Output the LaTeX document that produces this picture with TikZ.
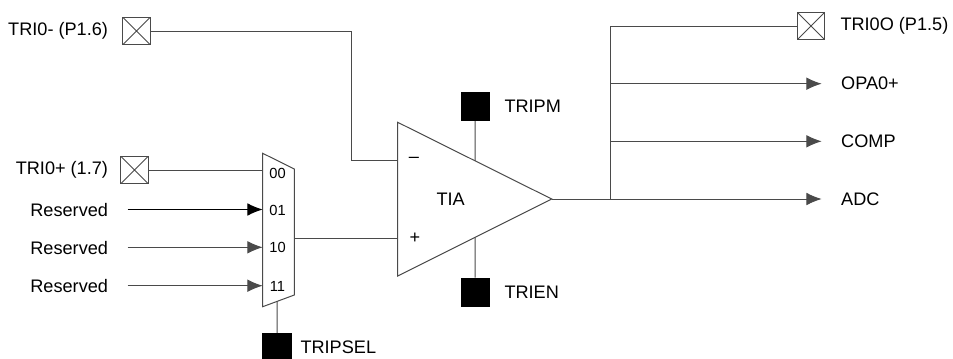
\documentclass[tikz,border=0pt]{standalone}
\usepackage{fontspec}
\setmainfont{Liberation Sans}
\usetikzlibrary{arrows.meta,calc}
\definecolor{wire}{HTML}{4A4A4A}
\tikzset{
  pinbox/.style={draw=wire,fill=white,inner sep=0pt,minimum size=20.5pt,
    path picture={\draw[wire,line width=0.6pt]
      (path picture bounding box.south west) -- (path picture bounding box.north east)
      (path picture bounding box.north west) -- (path picture bounding box.south east);}},
  ctrlbox/.style={draw=black,fill=black,inner sep=0pt,minimum size=21pt},
  sig/.style={inner sep=0pt,font=\fontsize{13.6}{16}\selectfont},
  sel/.style={inner sep=0pt,font=\fontsize{11}{13}\selectfont},
  arr/.style={-{Latex[length=11.5pt,width=9.5pt]}},
}
\begin{document}
\begin{tikzpicture}[x=0.75pt,y=-0.75pt,line width=0.75pt,draw=wire]
\useasboundingbox (0,0) rectangle (953,358);

% pins on the left
\node[pinbox] (pinm) at (136.5,31) {};
\node[sig,anchor=east] (lblm) at (108.5,31) {TRI0- (P1.6)};
\node[pinbox] (pinp) at (134.5,170) {};
\node[sig,anchor=east] (lblp) at (108.5,170) {TRI0+ (1.7)};
\node[sig,anchor=east] (res1) at (108.5,210) {Reserved};
\node[sig,anchor=east] (res2) at (108.5,248) {Reserved};
\node[sig,anchor=east] (res3) at (108.5,286) {Reserved};

% input mux
\coordinate (muxTL) at (262.7,153.3);
\coordinate (muxTR) at (294.3,169);
\coordinate (muxBR) at (294.3,295);
\coordinate (muxBL) at (262.7,306.7);
\draw[fill=white] (muxTL) -- (muxTR) -- (muxBR) -- (muxBL) -- cycle;
\node[sel] (m00) at (277.5,173.3) {00};
\node[sel] (m01) at (277.5,210) {01};
\node[sel] (m10) at (277.5,247) {10};
\node[sel] (m11) at (277.5,286) {11};

\coordinate (r1) at (127.7,209.5);
\coordinate (r2) at (127.7,247.3);
\coordinate (r3) at (127.7,285.7);
\draw (pinp.east) -- (pinp.east -| muxTL);
\draw[arr,draw=black] (r1) -- (r1 -| muxTL);
\draw[arr] (r2) -- (r2 -| muxTL);
\draw[arr] (r3) -- (r3 -| muxTL);

% mux select
\coordinate (selT) at ($(muxBL)!0.46!(muxBR)$);
\node[ctrlbox,minimum width=21.5pt,minimum height=22pt] (psel) at (277.2,348) {};
\node[sig,anchor=west] (lblsel) at (300,347) {TRIPSEL};
\draw (selT) -- (psel);

% amplifier
\coordinate (tiaT) at (397.7,122.3);
\coordinate (tiaB) at (397.7,276);
\coordinate (tiaO) at (551.7,199);
\draw (tiaT) -- (tiaO) -- (tiaB) -- cycle;
\coordinate (tiaM) at (397.7,160);
\coordinate (tiaP) at (397.7,238.3);
\node[sig] (tia) at (450.7,199) {TIA};
\node[sig] (minus) at (414,160) {–};
\node[sig] (plus) at (415,238.5) {+};

\coordinate (bendm) at (351.7,160);
\draw (pinm.east) -| (bendm) -- (tiaM);
\draw (tiaP -| muxTR) -- (tiaP);

\node[ctrlbox] (pm) at (475,106.7) {};
\node[sig,anchor=west] (lblpm) at (504,106.7) {TRIPM};
\coordinate (pmT) at ($(tiaT)!0.502!(tiaO)$);
\draw (pm) -- (pmT);
\node[ctrlbox] (en) at (475,292.2) {};
\node[sig,anchor=west] (lblen) at (504,292.2) {TRIEN};
\coordinate (enB) at ($(tiaB)!0.502!(tiaO)$);
\draw (en) -- (enB);

% outputs
\coordinate (br) at (610,199);
\node[pinbox] (pino) at (811,26) {};
\node[sig,anchor=west] (lblo) at (840,26) {TRI0O (P1.5)};
\node[sig,anchor=west] (opa) at (840.7,83.7) {OPA0+};
\node[sig,anchor=west] (comp) at (840.7,141.3) {COMP};
\node[sig,anchor=west] (adc) at (840.7,199) {ADC};
\coordinate (opaE) at (821.7,83.7);
\coordinate (compE) at (821.7,141.3);
\coordinate (adcE) at (821.7,199);

\draw (br) |- (pino.west);
\draw[arr] (tiaO) -- (adcE);
\draw[arr] (opaE -| br) -- (opaE);
\draw[arr] (compE -| br) -- (compE);
\end{tikzpicture}
\end{document}
